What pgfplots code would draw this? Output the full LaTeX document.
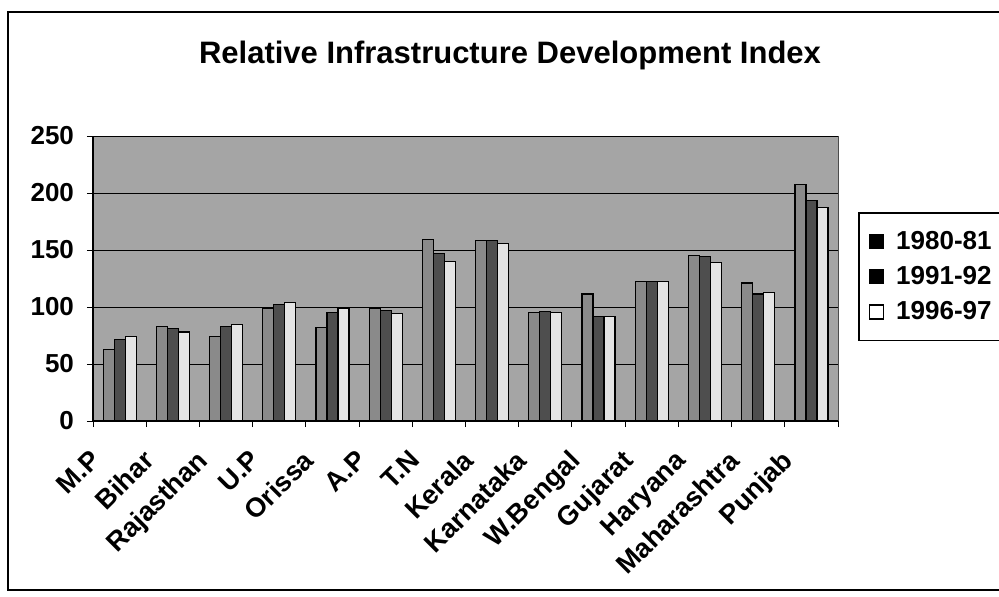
\documentclass[border=0pt]{standalone}
\usepackage{pgfplots}
\pgfplotsset{compat=1.18}
\usepackage{fontspec}
\setmainfont{Liberation Sans}
\definecolor{bgc}{RGB}{165,165,165}
\definecolor{cA}{RGB}{138,138,138}
\definecolor{cB}{RGB}{78,78,78}
\definecolor{cC}{RGB}{228,228,228}
\newcommand{\lbl}{\bfseries\fontsize{13}{15.5}\selectfont}
\newcommand{\xlbl}{\bfseries\fontsize{13.5}{16}\selectfont}
\begin{document}
\begin{tikzpicture}
\useasboundingbox (0,0) rectangle (499.5pt,-298pt);
\draw[line width=1.2pt] (500pt,-6pt) -- (4pt,-6pt) -- (4pt,-295pt) -- (500pt,-295pt);
\node[anchor=base, font=\bfseries\fontsize{15.5}{18}\selectfont] at (255pt,-31.5pt) {Relative Infrastructure Development Index};
\begin{axis}[
  at={(46.5pt,-210.5pt)}, anchor=south west,
  scale only axis, width=372.5pt, height=142.5pt,
  xmin=-0.5, xmax=13.5, ymin=0, ymax=250,
  ytick={0,50,...,250},
  xtick={0,...,13},
  xticklabels={M.P,Bihar,Rajasthan,U.P,Orissa,A.P,T.N,Kerala,Karnataka,W.Bengal,Gujarat,Haryana,Maharashtra,Punjab},
  xtick style={draw=none},
  extra x ticks={-0.5,0.5,...,13.5},
  extra x tick labels={},
  extra x tick style={xtick style={draw=black, line width=0.5pt}, major tick length=3pt, tick align=outside, grid=none},
  ytick style={draw=black, line width=0.5pt}, major tick length=3pt, tick align=outside,
  ymajorgrids, grid style={black, line width=0.5pt},
  axis x line*=bottom, axis y line*=left,
  axis line style={-, black, line width=0.8pt},
  axis background/.style={fill=bgc, draw=gray!60!black},
  ybar=0pt, bar width=5.5pt,
  yticklabel style={font=\lbl, xshift=-3pt},
  /pgf/number format/assume math mode=true,
  xticklabel style={font=\xlbl, xshift=-15.5pt, yshift=-10.5pt, rotate=45, anchor=north east, inner sep=0pt},
  legend style={at={(1.0268,0.733)}, anchor=north west, draw=black, line width=0.8pt,
    font=\lbl, row sep=3pt, inner xsep=5pt, inner ysep=7pt, cells={anchor=west}},
]
\addplot[fill=cA, draw=black, line width=0.6pt,
  legend image code/.code={\draw[fill=black,draw=black] (0pt,-3.5pt) rectangle (7pt,3.5pt); \path (11pt,0pt);}]
  coordinates {(0,62.7) (1,83) (2,74.4) (3,99) (4,81.7) (5,98.7) (6,159) (7,158.6) (8,95) (9,111.5) (10,122.7) (11,145.5) (12,121) (13,207.5)};
\addplot[fill=cB, draw=black, line width=0.6pt,
  legend image code/.code={\draw[fill=black,draw=black] (0pt,-3.5pt) rectangle (7pt,3.5pt); \path (11pt,0pt);}]
  coordinates {(0,71.5) (1,81.4) (2,83) (3,102) (4,95.5) (5,97) (6,147) (7,158.6) (8,96.3) (9,92) (10,122.7) (11,144) (12,111.5) (13,193.7)};
\addplot[fill=cC, draw=black, line width=0.6pt,
  legend image code/.code={\draw[fill=white,draw=black,line width=0.8pt] (0pt,-3.5pt) rectangle (7pt,3.5pt); \path (11pt,0pt);}]
  coordinates {(0,74.4) (1,78) (2,84.6) (3,104) (4,98.7) (5,94) (6,140) (7,155.7) (8,95) (9,92) (10,122.7) (11,138.7) (12,113) (13,187)};
\legend{1980-81,1991-92,1996-97}
\end{axis}
\end{tikzpicture}
\end{document}
